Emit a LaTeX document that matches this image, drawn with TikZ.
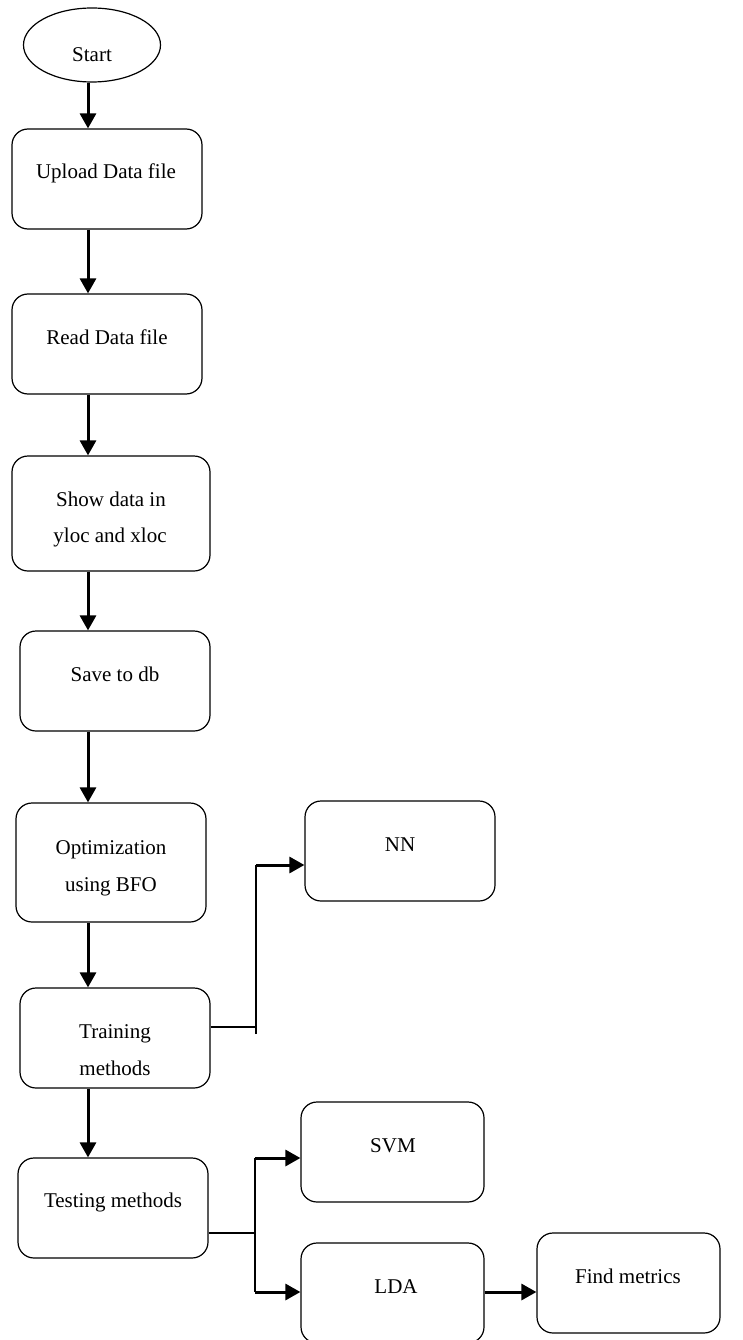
\documentclass[tikz,border=0pt]{standalone}
\usepackage{fontspec}
\setmainfont{Liberation Serif}
\usetikzlibrary{arrows.meta,shapes.geometric}
\begin{document}
\begin{tikzpicture}[x=1pt,y=-1pt,
  box/.style={draw=black,line width=1.2pt,rounded corners=16pt,minimum width=190pt,minimum height=100pt,inner sep=0pt},
  txt/.style={anchor=base,inner sep=0pt,font=\fontsize{21}{25}\selectfont},
  arr/.style={line width=3pt,-{Triangle[length=15pt,width=16pt]}},
  thinline/.style={line width=1.4pt},
  midline/.style={line width=2pt}]
\useasboundingbox (0,0) rectangle (743,1340);
% nodes
\node[draw=black,line width=1.2pt,ellipse,minimum width=137pt,minimum height=74pt,inner sep=0pt] (start) at (92,45) {};
\node[box] (upload) at (107,179) {};
\node[box] (read) at (107,344) {};
\node[box,minimum width=198pt,minimum height=115pt] (show) at (111,513.5) {};
\node[box] (save) at (115,681) {};
\node[box,minimum height=119pt] (opt) at (111,862.5) {};
\node[box] (train) at (115,1038) {};
\node[box] (test) at (113,1208) {};
\node[box] (nn) at (400,851) {};
\node[box,minimum width=183pt] (svm) at (392.5,1152) {};
\node[box,minimum width=183pt] (lda) at (392.5,1293) {};
\node[box,minimum width=183pt] (fm) at (628.5,1283) {};
% texts
\node[txt] (tstart) at (92,62) {Start};
\node[txt] (tupload) at (106,179) {Upload Data file};
\node[txt] (tread) at (107,344) {Read Data file};
\node[txt] (tshowa) at (111,506) {Show data in};
\node[txt] (tshowb) at (110,542) {yloc and xloc};
\node[txt] (tsave) at (115,681) {Save to db};
\node[txt] (topta) at (111,854) {Optimization};
\node[txt] (toptb) at (111,891) {using BFO};
\node[txt] (ttraina) at (115,1038) {Training};
\node[txt] (ttrainb) at (115,1075) {methods};
\node[txt] (ttest) at (113,1207) {Testing methods};
\node[txt] (tnn) at (400,851) {NN};
\node[txt] (tsvm) at (393,1152) {SVM};
\node[txt] (tlda) at (396,1293) {LDA};
\node[txt] (tfm) at (628,1283) {Find metrics};
% spine and junctions
\coordinate (spine) at (88,0);
\coordinate (ja) at (256,1027);
\coordinate (jb) at (256,1034);
\coordinate (jc) at (256,865);
\coordinate (ka) at (255,1233);
\coordinate (kb) at (255,1158);
\coordinate (kc) at (255,1292);
% main flow
\draw[arr] (start.south -| spine) -- (upload.north -| spine);
\draw[arr] (upload.south -| spine) -- (read.north -| spine);
\draw[arr] (read.south -| spine) -- (show.north -| spine);
\draw[arr] (show.south -| spine) -- (save.north -| spine);
\draw[arr] (save.south -| spine) -- (opt.north -| spine);
\draw[arr] (opt.south -| spine) -- (train.north -| spine);
\draw[arr] (train.south -| spine) -- (test.north -| spine);
% training to NN
\draw[thinline] (train.east |- ja) -- (ja);
\draw[thinline] (jb) -- (jc);
\draw[arr] (jc) -- (nn.west |- jc);
% testing to SVM and LDA
\draw[thinline] (test.east |- ka) -- (ka);
\draw[midline] (kb) -- (kc);
\draw[arr] (kb) -- (svm.west |- kb);
\draw[arr] (kc) -- (lda.west |- kc);
\draw[arr] (lda.east |- kc) -- (fm.west |- kc);
\end{tikzpicture}
\end{document}
